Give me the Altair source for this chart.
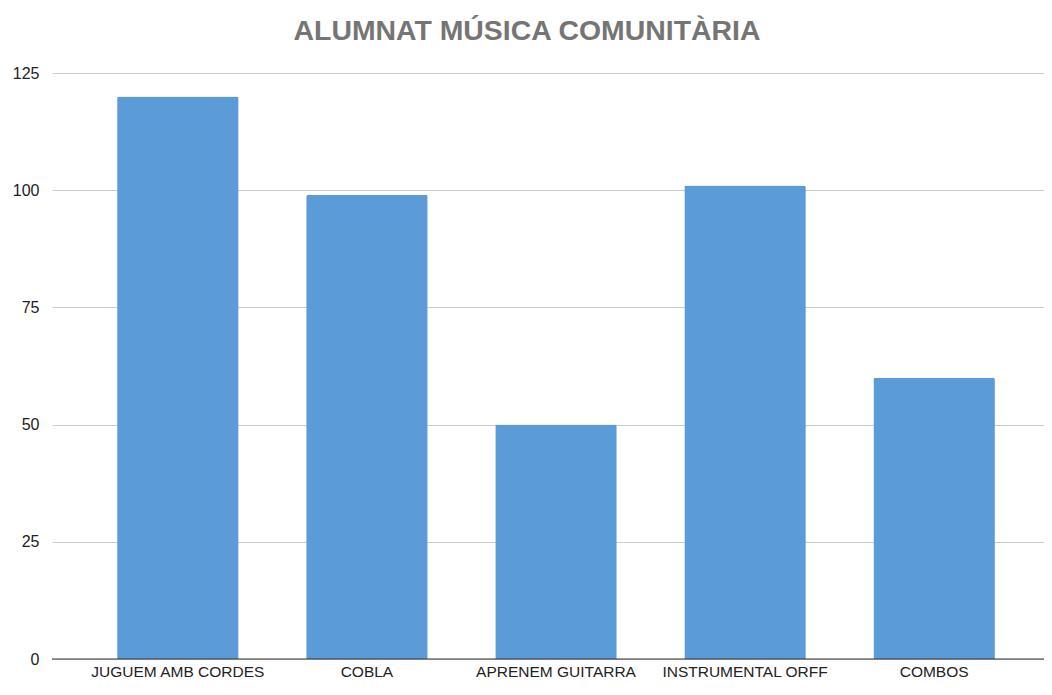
import altair as alt
import pandas as pd

title_text = "ALUMNAT MÚSICA COMUNITÀRIA"
categories = ["JUGUEM AMB CORDES", "COBLA", "APRENEM GUITARRA", "INSTRUMENTAL ORFF", "COMBOS"]
values = [120, 99, 50, 101, 60]
y_ticks = [0, 25, 50, 75, 100, 125]

df = pd.DataFrame({"cat": categories, "val": values})

bars = alt.Chart(df).mark_bar(color="#5b9bd7", cornerRadiusTopLeft=2, cornerRadiusTopRight=2, xOffset=8).encode(
    x=alt.X("cat:N", sort=categories, title=None,
            scale=alt.Scale(paddingInner=0.3575, paddingOuter=0.302),
            axis=alt.Axis(labelAngle=0, labelFontSize=15.5, labelFont="Liberation Sans",
                          labelColor="#222222", ticks=False, domain=False, labelPadding=5,
                          labelOffset=8)),
    y=alt.Y("val:Q", title=None,
            scale=alt.Scale(domain=[0, 125], nice=False),
            axis=alt.Axis(values=y_ticks, labelFontSize=16, labelFont="Liberation Sans",
                          labelColor="#222222", ticks=False, domain=False, labelPadding=13,
                          grid=True, gridColor="#cccccc", gridWidth=1)),
)

baseline = alt.Chart(pd.DataFrame({"y0": [0]})).mark_rule(color="#333333", strokeWidth=1.2).encode(
    y=alt.Y("y0:Q", scale=alt.Scale(domain=[0, 125], nice=False)),
    x=alt.value(0), x2=alt.value(992),
)

title = alt.Chart(pd.DataFrame({"t": [title_text]})).mark_text(
    font="Liberation Sans", fontSize=28.4, fontWeight="bold",
    color="#757575", align="center", baseline="alphabetic",
).encode(text="t:N", x=alt.value(475), y=alt.value(-33.5))

chart = alt.layer(bars, baseline, title).properties(
    width=992, height=586,
    padding={"left": 44, "top": 65, "right": 0, "bottom": 23},
    autosize=alt.AutoSizeParams(type="none"),
).configure_view(stroke=None)

chart.save("out.html", embed_options={"renderer": "svg", "actions": False})
